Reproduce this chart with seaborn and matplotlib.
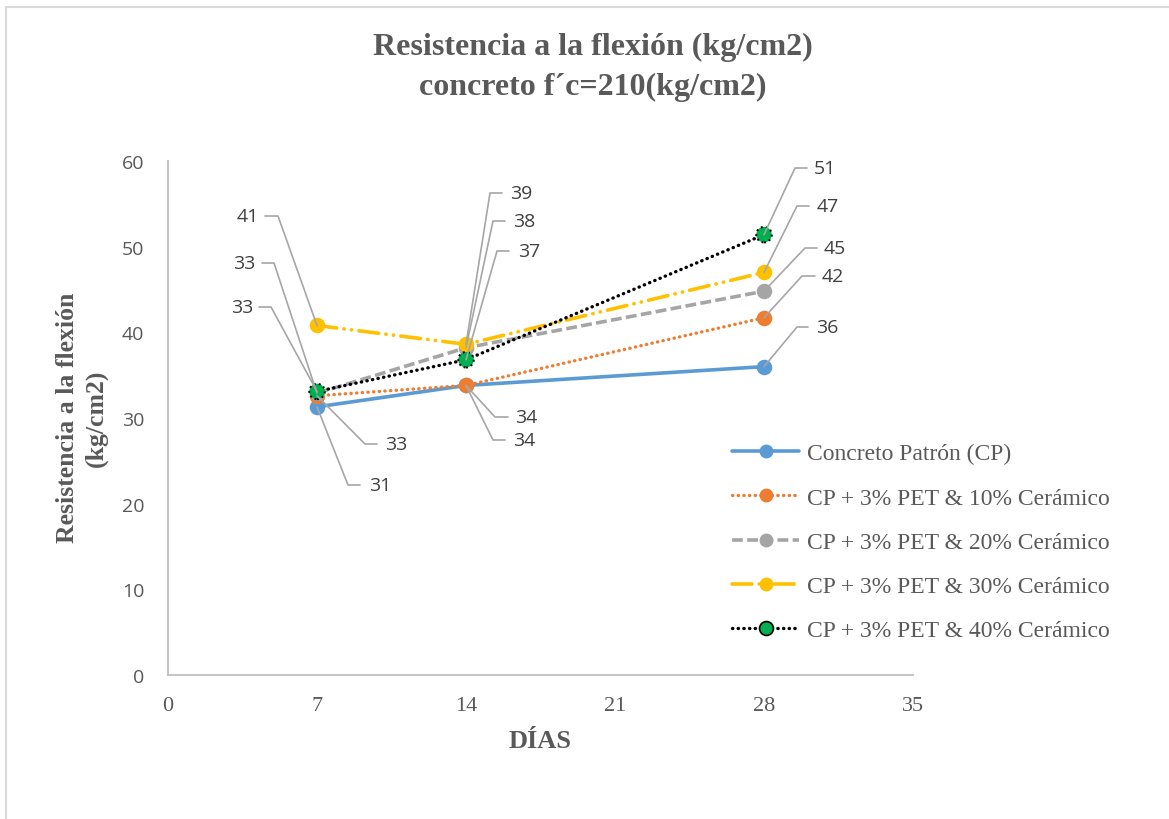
import matplotlib
matplotlib.use("Agg")
import matplotlib.pyplot as plt
from matplotlib.lines import Line2D
import seaborn as sns
import pandas as pd

# ---------------- data ----------------
dias = [7, 14, 28]
series_names = [
    "Concreto Patrón (CP)",
    "CP + 3% PET & 10% Cerámico",
    "CP + 3% PET & 20% Cerámico",
    "CP + 3% PET & 30% Cerámico",
    "CP + 3% PET & 40% Cerámico",
]
cp = [31.3, 33.8, 36.0]
cp10 = [32.6, 33.8, 41.7]
cp20 = [32.9, 38.2, 44.8]
cp30 = [40.8, 38.6, 47.0]
cp40 = [33.1, 36.8, 51.4]
values = [cp, cp10, cp20, cp30, cp40]

x_ticks = [0, 7, 14, 21, 28, 35]
y_ticks = [0, 10, 20, 30, 40, 50, 60]

# ---------------- styles ----------------
line_colors = ["#5B9BD5", "#ED7D31", "#A5A5A5", "#FFC000", "#000000"]
marker_face = ["#5B9BD5", "#ED7D31", "#A5A5A5", "#FFC000", "#00B050"]
marker_edge = ["#5B9BD5", "#ED7D31", "#A5A5A5", "#FFC000", "#000000"]
dash_styles = ["-", (0, (0.1, 1.6)), (0, (3.0, 1.2)), (0, (5.5, 2.0, 0.1, 2.0, 0.1, 2.0)), (0, (0.1, 1.6))]
line_widths = [2.6, 2.4, 2.6, 2.6, 2.4]
capstyles = ["butt", "round", "butt", "round", "round"]

# label layout (image pixels): series index, day index, elbow x, elbow y, horizontal end x, text x, text align
label_layout = [
    (3, 0, 278, 217, 265, 259, "right"),
    (2, 0, 274, 264, 262, 255, "right"),
    (4, 0, 271, 308, 259, 253, "right"),
    (1, 0, 365, 445, 377, 385, "left"),
    (0, 0, 348, 486, 360, 369, "left"),
    (3, 1, 490, 194, 502, 510, "left"),
    (2, 1, 493, 222, 505, 513, "left"),
    (4, 1, 497, 252, 509, 518, "left"),
    (1, 1, 495, 418, 508, 515, "left"),
    (0, 1, 493, 441, 505, 513, "left"),
    (4, 2, 795, 169, 807, 814, "left"),
    (3, 2, 797, 207, 809, 817, "left"),
    (2, 2, 805, 249, 817, 824, "left"),
    (1, 2, 802, 277, 815, 822, "left"),
    (0, 2, 797, 328, 808, 816, "left"),
]

W, H = 1169, 820
sns.set_theme(style="white")
plt.rcParams["font.family"] = ["Liberation Serif", "DejaVu Serif"]

fig = plt.figure(figsize=(W / 100, H / 100), dpi=100)
fig.patch.set_facecolor("white")
# chart frame (top and left edges visible)
fig.add_artist(Line2D([6 / W, 6 / W], [0, 1 - 8 / H], transform=fig.transFigure, color="#D9D9D9", lw=1.5))
fig.add_artist(Line2D([6 / W, 1], [1 - 8 / H, 1 - 8 / H], transform=fig.transFigure, color="#D9D9D9", lw=1.5))

ax = fig.add_axes([168 / W, 1 - 676 / H, (913 - 168) / W, (676 - 162) / H])

rows = []
for name, vals in zip(series_names, values):
    for d, v in zip(dias, vals):
        rows.append({"serie": name, "dias": d, "valor": v})
df = pd.DataFrame(rows)

for i, name in enumerate(series_names):
    sub = df[df["serie"] == name]
    sns.lineplot(data=sub, x="dias", y="valor", ax=ax, color=line_colors[i],
                 lw=line_widths[i], linestyle="-", legend=False, zorder=3 + i * 0.1)
    ln = ax.lines[-1]
    ln.set_linestyle(dash_styles[i])
    ln.set_dash_capstyle(capstyles[i])
    ln.set_solid_capstyle("butt")
    ax.scatter(sub["dias"], sub["valor"], s=125, color=marker_face[i],
               edgecolors=marker_edge[i], linewidths=1.4 if i == 4 else 0,
               linestyle=":" if i == 4 else "-", zorder=4 + i * 0.1)

ax.set_xlim(0, 35)
ax.set_ylim(0, 60)
ax.set_xticks(x_ticks)
ax.set_yticks(y_ticks)
ax.set_xticklabels([str(t) for t in x_ticks], fontsize=16, color="#595959", family="Liberation Serif")
ax.set_yticklabels([str(t) for t in y_ticks], fontsize=14, color="#595959", family="Open Sans")
ax.tick_params(axis="x", length=0, pad=15)
ax.tick_params(axis="y", length=0, pad=17)
for s in ["top", "right"]:
    ax.spines[s].set_visible(False)
for s in ["left", "bottom"]:
    ax.spines[s].set_color("#BFBFBF")
    ax.spines[s].set_linewidth(1.3)
ax.grid(False)
ax.set_xlabel("")
ax.set_ylabel("")

# axis titles
fig.text(540 / W, 1 - 742 / H, "DÍAS", ha="center", va="center", fontsize=19,
         fontweight="bold", color="#595959")
fig.text(68 / W, 1 - 418 / H, "Resistencia a la flexión", ha="center", va="center", rotation=90,
         fontsize=18.5, fontweight="bold", color="#595959")
fig.text(96 / W, 1 - 418 / H, "(kg/cm2)", ha="center", va="center", rotation=90,
         fontsize=18.5, fontweight="bold", color="#595959")

# chart title
fig.text(593 / W, 1 - 47 / H, "Resistencia a la flexión (kg/cm2)", ha="center", va="center",
         fontsize=23, fontweight="bold", color="#595959")
fig.text(593 / W, 1 - 87 / H, "concreto f´c=210(kg/cm2)", ha="center", va="center",
         fontsize=23, fontweight="bold", color="#595959")

# data labels with leader lines
fig.canvas.draw()
for si, di, ex, ey, hx, tx, ta in label_layout:
    px, py = ax.transData.transform((dias[di], values[si][di]))
    pts_x = [px, ex, hx]
    pts_y = [py, H - ey, H - ey]
    fig.add_artist(Line2D(pts_x, pts_y, transform=None, color="#A6A6A6", lw=1.2, zorder=2))
    fig.text(tx / W, 1 - ey / H, f"{values[si][di]:.0f}", ha=ta, va="center",
             fontsize=14, color="#404040", family="Open Sans")

# legend
handles = []
for i, name in enumerate(series_names):
    handles.append(Line2D([0], [0], color=line_colors[i], lw=line_widths[i], linestyle=dash_styles[i],
                          dash_capstyle=capstyles[i], marker="o", markersize=10,
                          markerfacecolor=marker_face[i], markeredgecolor=marker_edge[i],
                          markeredgewidth=1.2 if i == 4 else 0))
leg = fig.legend(handles, series_names, loc="upper left", bbox_to_anchor=(732 / W, 1 - 444 / H),
                 frameon=False, fontsize=17, handlelength=2.85, handletextpad=0.33,
                 labelspacing=0.96, borderpad=0, borderaxespad=0)
for t in leg.get_texts():
    t.set_color("#595959")

fig.savefig("out.png", dpi=100, facecolor="white")
